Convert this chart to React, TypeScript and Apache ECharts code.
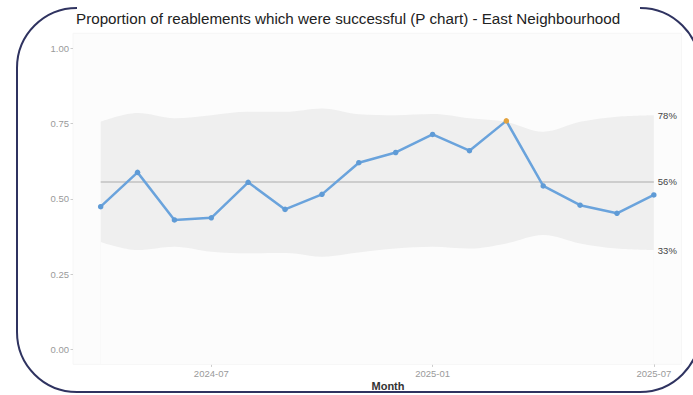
import React, { useEffect, useRef } from "react";
import * as echarts from "echarts";

const months = [
  "2024-04", "2024-05", "2024-06", "2024-07", "2024-08", "2024-09", "2024-10", "2024-11",
  "2024-12", "2025-01", "2025-02", "2025-03", "2025-04", "2025-05", "2025-06", "2025-07",
];
const proportions = [
  0.474, 0.588, 0.430, 0.437, 0.555, 0.465, 0.515, 0.620,
  0.654, 0.714, 0.660, 0.759, 0.543, 0.479, 0.452, 0.513,
];
const upperLimits = [
  0.756, 0.785, 0.768, 0.778, 0.789, 0.789, 0.800, 0.781,
  0.778, 0.782, 0.768, 0.756, 0.723, 0.756, 0.773, 0.778,
];
const lowerLimits = [
  0.357, 0.330, 0.341, 0.324, 0.319, 0.320, 0.308, 0.322,
  0.335, 0.341, 0.335, 0.352, 0.380, 0.352, 0.335, 0.330,
];
const centreLine = 0.556;
const yTicks = [0, 0.25, 0.5, 0.75, 1];
const xTickMonths = ["2024-07", "2025-01", "2025-07"];
const title = "Proportion of reablements which were successful (P chart) - East Neighbourhood";

const pct = (v: number) => `${Math.round(v * 100)}%`;
const PANEL_BG = "#fcfcfc";
const FRAME = "#2f3360";
const FONT = "Liberation Sans, Arial, sans-serif";

export default function App() {
  const ref = useRef<HTMLDivElement>(null);
  useEffect(() => {
    if (!ref.current) return;
    const chart = echarts.init(ref.current, undefined, { renderer: "svg" });
    const last = months.length - 1;
    const labelFont = { fontFamily: FONT, fontSize: 9.5 };
    const endLbl = (text: string) => ({
      show: true,
      fontFamily: FONT,
      fontSize: 9.5,
      color: "#444444",
      distance: 4,
      formatter: () => text,
    });
    const frameStyle = { fill: "none", stroke: FRAME, lineWidth: 2 };
    const R = 60;
    const L = 17, T = 8, B = 392, RX = 700;
    const arc = (cx: number, cy: number, a0: number, a1: number) => ({
      type: "arc",
      shape: { cx, cy, r: R, startAngle: a0, endAngle: a1, clockwise: true },
      style: frameStyle,
      silent: true,
      z: 10,
    });
    chart.setOption({
      animation: false,
      backgroundColor: "#ffffff",
      title: {
        text: title,
        left: 76,
        top: 11,
        padding: 0,
        textStyle: {
          fontFamily: FONT,
          fontSize: 15.2,
          fontWeight: "normal",
          color: "#222222",
        },
      },
      grid: {
        left: 73,
        right: 11.5,
        top: 33.3,
        bottom: 30.6,
        show: true,
        backgroundColor: PANEL_BG,
        borderColor: "#f6f6f6",
        borderWidth: 1,
      },
      xAxis: {
        type: "value",
        min: -0.75,
        max: last + 0.75,
        axisLine: { show: false, onZero: false },
        splitLine: { show: false },
        axisTick: {
          show: true,
          length: 2.5,
          lineStyle: { color: "#cccccc" },
          customValues: xTickMonths.map((m) => months.indexOf(m)),
        },
        axisLabel: {
          ...labelFont,
          color: "#9a9a9a",
          margin: 4,
          customValues: xTickMonths.map((m) => months.indexOf(m)),
          formatter: (v: number) => months[Math.round(v)] ?? "",
        },
      },
      yAxis: {
        type: "value",
        min: -0.05,
        max: 1.05,
        axisLine: { show: false, onZero: false },
        splitLine: { show: false },
        axisTick: {
          show: true,
          length: 2.5,
          lineStyle: { color: "#cccccc" },
          customValues: yTicks,
        },
        axisLabel: {
          ...labelFont,
          color: "#9a9a9a",
          margin: 4,
          customValues: yTicks,
          formatter: (v: number) => v.toFixed(2),
        },
      },
      series: [
        {
          name: "upper",
          type: "line",
          smooth: 0.35,
          symbol: "none",
          data: upperLimits.map((v, i) => [i, v]),
          lineStyle: { opacity: 0 },
          areaStyle: { color: "#efefef", opacity: 1, origin: "start" },
          z: 1,
          endLabel: endLbl(pct(upperLimits[last])),
        },
        {
          name: "lower",
          type: "line",
          smooth: 0.35,
          symbol: "none",
          data: lowerLimits.map((v, i) => [i, v]),
          lineStyle: { opacity: 0 },
          areaStyle: { color: PANEL_BG, opacity: 1, origin: "start" },
          z: 1.5,
          endLabel: endLbl(pct(lowerLimits[last])),
        },
        {
          name: "centre",
          type: "line",
          symbol: "none",
          data: [[0, centreLine], [last, centreLine]],
          lineStyle: { color: "#ababab", width: 1.2 },
          z: 2,
          endLabel: endLbl(pct(centreLine)),
        },
        {
          name: "proportion",
          type: "line",
          symbol: "circle",
          symbolSize: 5.5,
          data: proportions.map((v, i) => ({
            value: [i, v],
            itemStyle: {
              color: v > upperLimits[i] || v < lowerLimits[i] ? "#e3a33f" : "#5f9bd6",
            },
          })),
          lineStyle: { color: "#6aa3dc", width: 2.5 },
          itemStyle: { color: "#5f9bd6" },
          z: 3,
        },
      ],
      graphic: [
        arc(L + R, T + R, Math.PI, Math.PI * 1.5),
        arc(L + R, B - R, Math.PI * 0.5, Math.PI),
        arc(RX - R, T + R, Math.PI * 1.5, Math.PI * 2),
        arc(RX - R, B - R, 0, Math.PI * 0.5),
        {
          type: "line",
          shape: { x1: L, y1: T + R, x2: L, y2: B - R },
          style: frameStyle,
          silent: true,
          z: 10,
        },
        {
          type: "line",
          shape: { x1: L + R, y1: B, x2: RX - R, y2: B },
          style: frameStyle,
          silent: true,
          z: 10,
        },
        {
          type: "text",
          x: 388,
          y: 386,
          style: {
            text: "Month",
            fontFamily: FONT,
            fontSize: 11,
            fontWeight: "bold",
            fill: "#333333",
            align: "center",
            verticalAlign: "middle",
          },
          z: 5,
        },
      ],
    });
    return () => chart.dispose();
  }, []);
  return (
    <div
      ref={ref}
      style={{ position: "absolute", left: 0, top: 0, width: 693, height: 395 }}
    />
  );
}
